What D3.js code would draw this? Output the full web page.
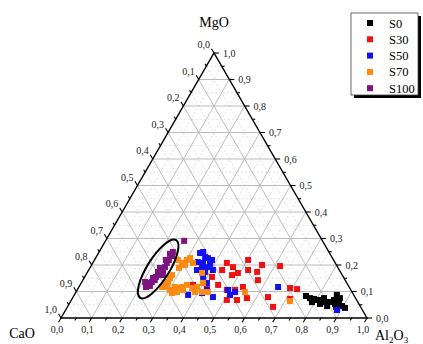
<!DOCTYPE html>
<html>
<head>
<meta charset="utf-8">
<script src="https://cdn.jsdelivr.net/npm/d3@7"></script>
<style>
  body { margin: 0; background: #fff; }
  svg { display: block; }
</style>
</head>
<body>
<div id="chart"></div>
<script>
// compositions as [Al2O3, MgO] fractions, CaO = 1 - Al2O3 - MgO
const s0 = [[0.759,0.083],[0.776,0.075],[0.791,0.072],[0.806,0.068],[0.821,0.064],[0.836,0.060],
  [0.849,0.060],[0.847,0.045],[0.858,0.068],[0.858,0.087],[0.871,0.068],[0.882,0.053],[0.896,0.045],
  [0.909,0.038],[0.820,0.053],[0.790,0.060],[0.869,0.053],[0.822,0.075],[0.874,0.075],[0.878,0.042]];
const s30 = [[0.438,0.208],[0.466,0.192],[0.502,0.219],[0.436,0.181],[0.478,0.162],[0.493,0.170],
  [0.521,0.181],[0.554,0.174],[0.572,0.143],[0.451,0.125],[0.489,0.106],[0.516,0.106],[0.541,0.068],
  [0.508,0.068],[0.570,0.075],[0.637,0.079],[0.672,0.042],[0.416,0.155],[0.418,0.117],[0.618,0.196],
  [0.692,0.113],[0.717,0.109],[0.712,0.072],[0.369,0.125],[0.557,0.200],[0.536,0.117]];
const s50 = [[0.332,0.245],[0.342,0.211],[0.360,0.208],[0.381,0.192],[0.366,0.189],[0.384,0.174],
  [0.367,0.226],[0.354,0.181],[0.372,0.087],[0.414,0.094],[0.424,0.106],[0.340,0.249],[0.356,0.230],
  [0.384,0.219],[0.406,0.181],[0.411,0.132],[0.457,0.079],[0.493,0.106],[0.509,0.087],[0.520,0.098],
  [0.387,0.155],[0.651,0.117],[0.887,0.030],[0.385,0.204]];
const s70 = [[0.273,0.219],[0.291,0.208],[0.309,0.226],[0.291,0.189],[0.282,0.162],[0.281,0.151],
  [0.274,0.132],[0.272,0.117],[0.288,0.117],[0.303,0.106],[0.314,0.117],[0.326,0.113],[0.337,0.117],
  [0.346,0.106],[0.349,0.125],[0.330,0.098],[0.372,0.113],[0.386,0.117],[0.389,0.098],[0.316,0.094],
  [0.302,0.219],[0.376,0.170],[0.398,0.132],[0.412,0.098],[0.431,0.098],[0.552,0.098],[0.716,0.064],
  [0.305,0.200],[0.327,0.208],[0.282,0.136]];
const s100 = [[0.257,0.291],[0.241,0.249],[0.246,0.234],[0.243,0.219],[0.242,0.208],[0.244,0.192],
  [0.243,0.181],[0.237,0.174],[0.236,0.162],[0.233,0.155],[0.225,0.151],[0.229,0.136],[0.222,0.132],
  [0.224,0.121],[0.207,0.136],[0.230,0.121],[0.252,0.162],[0.235,0.143],[0.229,0.189],[0.233,0.219],
  [0.235,0.242],[0.219,0.117],[0.230,0.174]];

const seriesNames = ["S0", "S30", "S50", "S70", "S100"];
const seriesData = [s0, s30, s50, s70, s100];
const seriesColors = ["#000000", "#ee1111", "#1111ee", "#ff8a12", "#7d1480"];

const ticks = d3.range(0, 11).map(i => i / 10);
const tickFmt = v => d3.format(".1f")(v).replace(".", ",");

// ellipse around the S100 cluster (centre as composition)
const ellipseCentre = [0.225, 0.185];

const width = 423, height = 344;
const svg = d3.select("#chart").append("svg")
    .attr("width", width)
    .attr("height", height)
    .style("font-family", "'Liberation Serif', 'Times New Roman', serif");

const x = d3.scaleLinear().domain([0, 1]).range([61, 367]);
const y = d3.scaleLinear().domain([0, 1]).range([318, 53]);
// ternary -> screen
const pos = (al, mg) => [x(al + mg / 2), y(mg)];

// grid
const grid = svg.append("g");
const gridVals = d3.range(1, 20).map(i => i / 20);
gridVals.forEach(v => {
    const major = Math.abs(v * 10 - Math.round(v * 10)) < 1e-6;
    const lines = [
        [pos(0, v), pos(1 - v, v)],      // MgO
        [pos(v, 0), pos(v, 1 - v)],      // Al2O3
        [pos(1 - v, 0), pos(0, 1 - v)]   // CaO
    ];
    lines.forEach(l => {
        grid.append("line")
            .attr("x1", l[0][0]).attr("y1", l[0][1])
            .attr("x2", l[1][0]).attr("y2", l[1][1])
            .attr("stroke", major ? "#b4b4b4" : "#d2d2d2")
            .attr("stroke-width", major ? 0.9 : 0.7)
            .attr("stroke-dasharray", major ? null : "2,2");
    });
});

// axes frame
const corners = [pos(0, 0), pos(1, 0), pos(0, 1)];
svg.append("path")
    .attr("d", d3.line()(corners) + "Z")
    .attr("fill", "none")
    .attr("stroke", "#000")
    .attr("stroke-width", 1.4);

// ticks and labels
const axisG = svg.append("g").attr("font-size", 10).attr("fill", "#222");
const sq3 = Math.sqrt(3) / 2;
const tickMinor = d3.range(1, 20, 2).map(i => i / 20);

function drawTicks(pt, dir, len) {
    axisG.append("line")
        .attr("x1", pt[0]).attr("y1", pt[1])
        .attr("x2", pt[0] + dir[0] * len).attr("y2", pt[1] + dir[1] * len)
        .attr("stroke", "#000").attr("stroke-width", 1.1);
}

ticks.forEach(v => {
    // bottom: Al2O3
    let p = pos(v, 0);
    drawTicks(p, [-0.5, sq3], 5);
    axisG.append("text").attr("x", p[0] - 4).attr("y", p[1] + 15)
        .attr("text-anchor", "middle").text(tickFmt(v));
    // right: MgO
    p = pos(1 - v, v);
    drawTicks(p, [1, 0], 5);
    axisG.append("text").attr("x", p[0] + 9).attr("y", p[1] + 3.5)
        .attr("text-anchor", "start").text(tickFmt(v));
    // left: CaO
    p = pos(0, 1 - v);
    drawTicks(p, [-0.5, -sq3], 5);
    axisG.append("text").attr("x", p[0] - 4).attr("y", p[1] - 5)
        .attr("text-anchor", "end").text(tickFmt(v));
});
tickMinor.forEach(v => {
    drawTicks(pos(v, 0), [-0.5, sq3], 3);
    drawTicks(pos(1 - v, v), [1, 0], 3);
    drawTicks(pos(0, 1 - v), [-0.5, -sq3], 3);
});

// axis titles
svg.append("text").attr("x", pos(0, 1)[0]).attr("y", 27)
    .attr("text-anchor", "middle").attr("font-size", 14).text("MgO");
svg.append("text").attr("x", 22).attr("y", 338)
    .attr("text-anchor", "middle").attr("font-size", 14).text("CaO");
const al = svg.append("text").attr("x", 375).attr("y", 340).attr("font-size", 14);
al.append("tspan").text("Al");
al.append("tspan").attr("font-size", 9).attr("dy", 3).text("2");
al.append("tspan").attr("dy", -3).text("O");
al.append("tspan").attr("font-size", 9).attr("dy", 3).text("3");

// data points
const ms = 6;
seriesData.forEach((data, i) => {
    svg.append("g").selectAll("rect")
        .data(data)
        .join("rect")
        .attr("x", d => pos(d[0], d[1])[0] - ms / 2)
        .attr("y", d => pos(d[0], d[1])[1] - ms / 2)
        .attr("width", ms).attr("height", ms)
        .attr("fill", seriesColors[i]);
});

// ellipse annotation
const ec = pos(ellipseCentre[0], ellipseCentre[1]);
svg.append("ellipse")
    .attr("cx", 0).attr("cy", 0).attr("rx", 34).attr("ry", 11)
    .attr("transform", `translate(${ec[0]},${ec[1]}) rotate(-58)`)
    .attr("fill", "none").attr("stroke", "#000").attr("stroke-width", 2);

// legend
const lg = svg.append("g").attr("transform", "translate(351,13)");
lg.append("rect").attr("x", 3).attr("y", 3).attr("width", 67).attr("height", 82).attr("fill", "#000");
lg.append("rect").attr("width", 67).attr("height", 82).attr("fill", "#fff")
    .attr("stroke", "#444").attr("stroke-width", 0.8);
seriesNames.forEach((name, i) => {
    const yy = 10 + i * 16.3;
    lg.append("rect").attr("x", 16).attr("y", yy - 3).attr("width", 6).attr("height", 6)
        .attr("fill", seriesColors[i]);
    lg.append("text").attr("x", 38).attr("y", yy + 4.5).attr("font-size", 12.5).text(name);
});
</script>
</body>
</html>
